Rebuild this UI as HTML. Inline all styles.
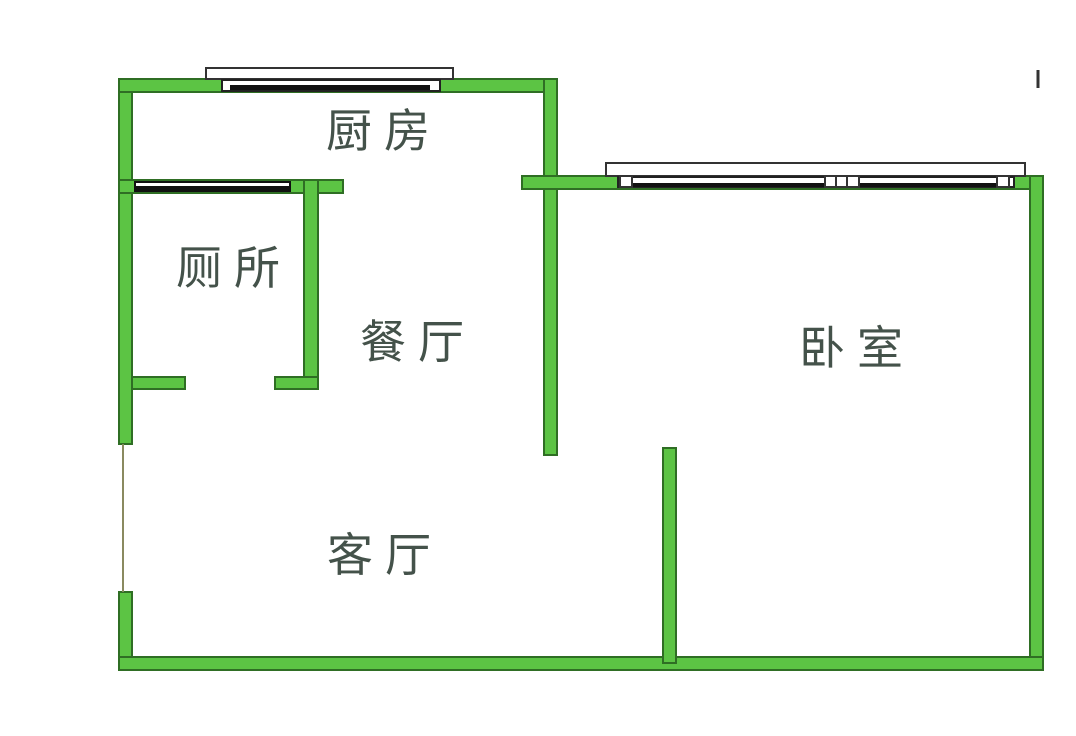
<!DOCTYPE html>
<html><head><meta charset="utf-8"><style>
html,body{margin:0;padding:0;background:#fff;}
svg{display:block;}
text{font-family:"Liberation Sans","Noto Sans CJK SC",sans-serif;fill:#44524a;font-size:46px;letter-spacing:12px;}
</style></head><body>
<svg width="1076" height="736" viewBox="0 0 1076 736">
<g fill="#5cc444" stroke="#2f6e24" stroke-width="2">
<rect x="119" y="79" width="13" height="365"/>
<rect x="119" y="592" width="13" height="78"/>
<rect x="119" y="79" width="438" height="13"/>
<rect x="544" y="79" width="13" height="376"/>
<rect x="119" y="180" width="224" height="13"/>
<rect x="304" y="180" width="14" height="209"/>
<rect x="132" y="377" width="53" height="12"/>
<rect x="275" y="377" width="43" height="12"/>
<rect x="522" y="176" width="521" height="13"/>
<rect x="1030" y="176" width="13" height="494"/>
<rect x="119" y="657" width="924" height="13"/>
<rect x="663" y="448" width="13" height="215"/>
</g>
<line x1="123" y1="444" x2="123" y2="592" stroke="#8a8a60" stroke-width="2"/>
<rect x="206" y="68" width="247" height="11" fill="#fff" stroke="#333" stroke-width="2"/>
<rect x="222" y="80" width="218" height="11" fill="#fff" stroke="#222" stroke-width="2"/>
<rect x="230" y="85" width="200" height="5" fill="#111"/>
<rect x="135" y="182" width="155" height="9" fill="#fff" stroke="#111" stroke-width="2"/>
<rect x="135" y="186" width="155" height="6" fill="#111"/>
<rect x="606" y="163" width="419" height="13" fill="#fff" stroke="#333" stroke-width="2"/>
<rect x="618" y="177" width="396" height="10" fill="#fff" stroke="#222" stroke-width="2"/>
<rect x="630" y="183" width="370" height="4" fill="#111"/>
<rect x="825" y="176" width="34" height="11" fill="#fff" stroke="#333" stroke-width="2"/>
<line x1="836" y1="176" x2="836" y2="187" stroke="#333" stroke-width="2"/>
<line x1="847" y1="176" x2="847" y2="187" stroke="#333" stroke-width="2"/>
<rect x="997" y="176" width="12" height="11" fill="#fff" stroke="#333" stroke-width="2"/>
<rect x="620" y="176" width="12" height="11" fill="#fff" stroke="#333" stroke-width="2"/>
<line x1="1038" y1="70" x2="1038" y2="88" stroke="#333" stroke-width="3"/>
<text x="326" y="147">厨房</text>
<text x="176" y="284">厕所</text>
<text x="360" y="358">餐厅</text>
<text x="799" y="364">卧室</text>
<text x="327" y="571">客厅</text>
</svg>
</body></html>
